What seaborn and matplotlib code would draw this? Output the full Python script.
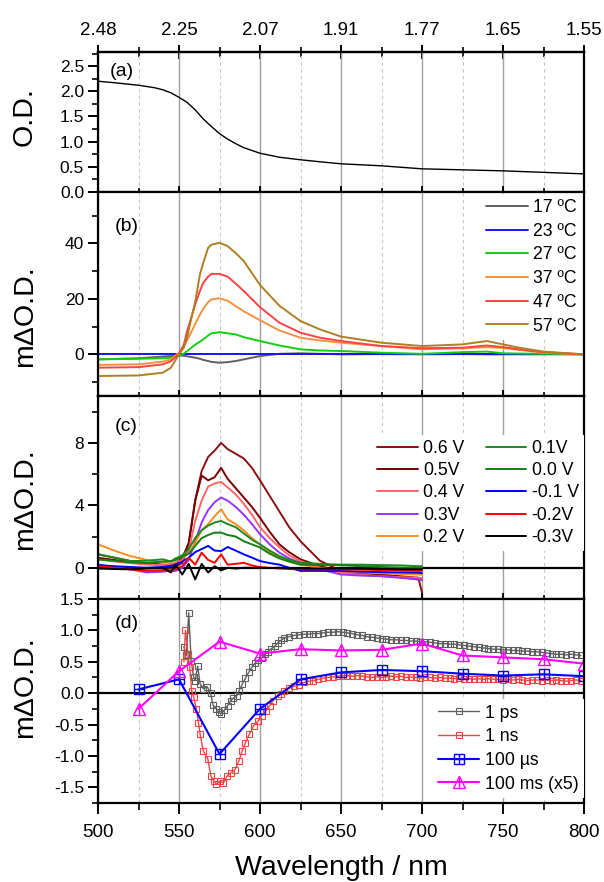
import numpy as np
import pandas as pd
import matplotlib
matplotlib.use("Agg")
import matplotlib.pyplot as plt
import seaborn as sns
from matplotlib.ticker import MultipleLocator, FixedLocator
from matplotlib.legend_handler import HandlerTuple

# ---------------- data ----------------
# (a) absorbance
abs_wl = [500, 510, 525, 535, 540, 545, 550, 555, 560, 565, 570, 575, 580, 585, 590, 600,
          612, 625, 637, 650, 675, 700, 725, 750, 775, 800]
abs_od = [2.20, 2.17, 2.12, 2.07, 2.03, 1.97, 1.88, 1.78, 1.63, 1.45, 1.30, 1.16, 1.05, 0.96,
          0.88, 0.77, 0.69, 0.64, 0.60, 0.56, 0.52, 0.46, 0.44, 0.42, 0.39, 0.36]

# (b) temperature difference spectra
temp_wl = [500, 525, 540, 545, 550, 553, 555, 558, 560, 563, 565, 568, 570, 575, 580, 585,
           590, 600, 612, 625, 637, 650, 675, 700, 725, 740, 750, 760, 775, 800]
temp_labels = ["17 ºC", "23 ºC", "27 ºC", "37 ºC", "47 ºC", "57 ºC"]
t17 = [-1.8, -1.4, -0.8, -0.6, -0.4, -0.5, -0.7, -1.0, -1.2, -1.6, -2.0, -2.4, -2.7, -3.0, -2.8,
       -2.4, -1.8, -0.6, 0.2, 0.4, 0.2, 0.0, 0.1, 0.0, 0.1, 0.0, 0.0, 0.0, 0.0, 0.0]
t23 = [0.0] * 30
t27 = [-1.8, -1.6, -1.4, -1.2, -0.5, 0.3, 1.2, 2.6, 3.5, 4.6, 5.4, 6.8, 7.6, 8.0, 7.6, 7.2,
       6.2, 4.8, 3.2, 1.8, 1.4, 1.2, 0.6, 0.2, 0.8, 1.0, 0.4, 0.3, 0.2, 0.0]
t37 = [-3.8, -3.6, -2.6, -1.8, 0.6, 3.0, 5.0, 8.5, 11.0, 14.4, 16.5, 18.8, 19.8, 20.2, 19.3,
       17.4, 15.5, 12.3, 8.6, 6.0, 5.0, 4.2, 3.0, 1.8, 2.2, 2.6, 2.3, 1.6, 0.6, 0.0]
t47 = [-4.8, -4.6, -3.6, -2.5, 0.2, 3.5, 8.4, 14.0, 18.0, 23.0, 25.8, 28.0, 29.0, 29.0, 28.0,
       25.5, 22.8, 17.0, 11.4, 7.8, 6.0, 4.8, 3.0, 2.2, 2.4, 3.2, 2.6, 1.8, 0.8, 0.0]
t57 = [-7.8, -7.6, -6.6, -4.8, 0.0, 2.4, 6.0, 14.0, 19.0, 29.0, 33.0, 38.4, 39.5, 40.2, 39.0,
       36.5, 33.6, 25.0, 17.5, 12.0, 9.0, 6.4, 4.2, 3.0, 3.6, 4.8, 3.6, 2.4, 1.0, 0.0]
temp_colors = ["#5f5f5f", "#1414ff", "#10d010", "#f5913f", "#ff4242", "#b07f22"]

# (c) potential difference spectra
pot_wl = [500, 510, 520, 530, 540, 545, 548, 552, 556, 560, 564, 568, 572, 576, 580, 585, 590,
          595, 600, 606, 612, 618, 625, 637, 650, 662, 675, 687, 698, 700]
pot_labels = ["0.6 V", "0.5V", "0.4 V", "0.3V", "0.2 V", "0.1V", "0.0 V", "-0.1 V", "-0.2V", "-0.3V"]
v06 = [0.86, 0.65, 0.43, 0.30, 0.20, 0.15, 0.10, 0.30, 1.5, 4.3, 6.2, 7.1, 7.5, 8.0, 7.6, 7.3,
       7.0, 6.4, 5.6, 4.6, 3.6, 2.6, 1.7, 0.45, -0.2, -0.4, -0.5, -0.6, -0.75, -1.6]
v05 = [0.64, 0.50, 0.35, 0.25, 0.17, 0.20, 0.30, 0.60, 1.6, 4.3, 5.9, 5.6, 5.8, 6.4, 5.7, 5.1,
       4.5, 3.9, 3.2, 2.3, 1.5, 1.0, 0.54, 0.10, -0.2, -0.35, -0.43, -0.55, -0.64, -0.7]
v04 = [0.54, 0.40, 0.30, 0.20, 0.17, 0.25, 0.35, 0.50, 1.1, 3.0, 4.3, 5.2, 5.4, 5.5, 5.15, 4.7,
       4.1, 3.4, 2.6, 1.9, 1.3, 0.8, 0.43, 0.0, -0.3, -0.45, -0.54, -0.6, -0.64, -0.7]
v03 = [0.20, 0.05, -0.10, -0.30, -0.25, -0.20, -0.20, 0.0, 0.5, 1.7, 2.9, 3.7, 4.2, 4.5, 4.3, 3.9,
       3.4, 2.8, 2.15, 1.5, 0.97, 0.6, 0.32, -0.1, -0.43, -0.5, -0.54, -0.65, -0.75, -0.8]
v02 = [1.5, 1.1, 0.75, 0.50, 0.32, 0.40, 0.60, 0.70, 0.9, 1.6, 2.4, 2.8, 3.3, 3.75, 3.1, 2.8,
       2.4, 1.9, 1.5, 1.0, 0.64, 0.4, 0.2, 0.0, -0.2, -0.3, -0.35, -0.4, -0.43, -0.45]
v01 = [0.86, 0.65, 0.43, 0.45, 0.54, 0.40, 0.60, 0.80, 1.2, 1.9, 2.4, 2.7, 2.9, 3.0, 2.8, 2.6,
       2.2, 1.8, 1.5, 1.1, 0.75, 0.5, 0.32, 0.25, 0.2, 0.2, 0.17, 0.15, 0.1, 0.1]
v00 = [0.54, 0.45, 0.35, 0.30, 0.40, 0.43, 0.50, 0.70, 0.9, 1.4, 1.9, 2.1, 2.25, 2.25, 2.1, 2.0,
       1.7, 1.5, 1.3, 0.9, 0.6, 0.4, 0.2, 0.18, 0.17, 0.1, 0.05, 0.0, 0.0, 0.0]
vm01 = [0.17, 0.10, 0.05, 0.0, 0.05, 0.10, 0.20, 0.40, 0.64, 1.0, 1.2, 1.4, 1.1, 1.07, 1.33, 1.1,
        0.86, 0.65, 0.43, 0.3, 0.2, 0.0, -0.2, -0.2, -0.2, -0.25, -0.28, -0.3, -0.32, -0.35]
vm02 = [0.10, 0.0, -0.10, -0.20, -0.15, -0.10, -0.10, 0.10, 0.64, 0.2, 0.97, 0.5, 0.32, 0.86, 0.2,
        0.25, 0.32, 0.15, 0.04, 0.0, -0.05, -0.08, -0.1, -0.1, -0.1, -0.12, -0.15, -0.18, -0.2, -0.2]
vm03 = [-0.05, -0.08, -0.10, -0.05, 0.0, -0.30, 0.20, -0.43, 0.25, -0.75, 0.25, -0.3, 0.1, -0.17,
        0.0, -0.05, 0.0, 0.0, 0.0, -0.02, 0.0, -0.03, -0.05, -0.05, -0.05, -0.06, -0.08, -0.1, -0.1, -0.1]
pot_colors = ["#8b1010", "#7a0000", "#ff6666", "#9933ff", "#ff8c1a",
              "#1f8a1f", "#138013", "#0000ff", "#ff0000", "#000000"]

# (d) transient spectra
ps_wl = [553, 554.5, 556, 557.5, 559, 560, 561.5, 563, 565, 567.5, 569.5, 571, 573, 574.5, 576,
         578, 580, 582, 583.5, 585.5, 587, 589, 591, 593, 595, 597, 599, 601, 603, 605, 607, 609,
         611, 613, 615, 618, 621, 624, 627, 630, 633, 636, 639, 642, 645, 648, 651, 654, 657, 660,
         663, 666, 669, 672, 675, 678, 681, 684, 687, 690, 693, 696, 699, 702, 705, 708, 711, 714,
         717, 720, 723, 726, 729, 732, 735, 738, 741, 744, 747, 750, 753, 756, 759, 762, 765, 768,
         771, 774, 777, 780, 783, 786, 789, 792, 795, 798]
ps_val = [0.74, 0.60, 1.28, 0.52, 0.26, 0.20, 0.43, 0.15, 0.07, 0.10, 0.0, -0.19, -0.25, -0.30, -0.33,
          -0.27, -0.20, -0.12, -0.08, -0.05, 0.03, 0.14, 0.24, 0.33, 0.41, 0.48, 0.53, 0.56, 0.62, 0.66,
          0.71, 0.75, 0.80, 0.84, 0.88, 0.90, 0.92, 0.93, 0.94, 0.94, 0.95, 0.95, 0.96, 0.97, 0.97, 0.98,
          0.97, 0.96, 0.95, 0.93, 0.92, 0.90, 0.89, 0.88, 0.87, 0.86, 0.85, 0.85, 0.84, 0.84, 0.83, 0.83,
          0.82, 0.82, 0.81, 0.80, 0.79, 0.79, 0.78, 0.78, 0.77, 0.76, 0.75, 0.74, 0.73, 0.72, 0.71, 0.70,
          0.70, 0.69, 0.69, 0.68, 0.68, 0.67, 0.67, 0.66, 0.66, 0.65, 0.64, 0.63, 0.62, 0.62, 0.61, 0.62,
          0.61, 0.60]
ns_wl = [553, 554, 555.5, 556.6, 557.8, 559, 560.7, 562, 563, 565, 567.8, 569.7, 571.4, 573, 575,
         577.4, 579.7, 582, 584.5, 587, 589, 591, 593.5, 596, 599, 601, 603.5, 606, 608, 611, 613,
         615, 618, 621, 624, 627, 630, 633, 636, 639, 642, 645, 648, 651, 654, 657, 660, 663, 666,
         669, 672, 675, 678, 681, 684, 687, 690, 693, 696, 699, 702, 705, 708, 711, 714, 717, 720,
         723, 726, 729, 732, 735, 738, 741, 744, 747, 750, 753, 756, 759, 762, 765, 768, 771, 774,
         777, 780, 783, 786, 789, 792, 795, 798]
ns_val = [0.50, 1.00, 0.63, 0.42, 0.04, -0.06, -0.25, -0.47, -0.65, -0.92, -1.05, -1.32, -1.40, -1.45,
          -1.40, -1.43, -1.32, -1.27, -1.22, -1.08, -0.92, -0.79, -0.65, -0.52, -0.44, -0.36, -0.28,
          -0.20, -0.12, -0.05, -0.01, 0.04, 0.08, 0.11, 0.13, 0.17, 0.19, 0.20, 0.22, 0.24, 0.25, 0.26,
          0.27, 0.28, 0.28, 0.27, 0.28, 0.27, 0.26, 0.25, 0.26, 0.25, 0.26, 0.27, 0.26, 0.27, 0.25, 0.26,
          0.25, 0.24, 0.25, 0.25, 0.24, 0.25, 0.24, 0.24, 0.23, 0.24, 0.23, 0.23, 0.22, 0.23, 0.22, 0.23,
          0.22, 0.22, 0.21, 0.22, 0.21, 0.22, 0.21, 0.20, 0.21, 0.21, 0.20, 0.21, 0.20, 0.21, 0.20, 0.19,
          0.20, 0.21, 0.20]
coarse_wl = [525, 550, 575, 600, 625, 650, 675, 700, 725, 750, 775, 800]
us_val = [0.06, 0.22, -0.97, -0.25, 0.22, 0.33, 0.37, 0.35, 0.31, 0.28, 0.30, 0.27]
ms_val = [-0.25, 0.35, 0.82, 0.63, 0.70, 0.68, 0.69, 0.79, 0.60, 0.57, 0.54, 0.47]
d_labels = ["1 ps", "1 ns", "100 µs", "100 ms (x5)"]

ev_ticks = [500, 550, 600, 650, 700, 750, 800]
ev_labels = ["2.48", "2.25", "2.07", "1.91", "1.77", "1.65", "1.55"]

# ---------------- style ----------------
sns.set_theme(style="ticks")
plt.rcParams["font.family"] = ["Liberation Sans", "DejaVu Sans"]
for k in ["text.color", "axes.labelcolor", "xtick.color", "ytick.color", "axes.edgecolor"]:
    plt.rcParams[k] = "black"

fig = plt.figure(figsize=(6.04, 8.82), dpi=100)
FW, FH = 604.0, 882.0
L, R = 98, 584


def add(top, bottom):
    return fig.add_axes([L / FW, (FH - bottom) / FH, (R - L) / FW, (bottom - top) / FH])


axa = add(52, 192)
axb = add(192, 396)
axc = add(396, 599)
axd = add(599, 803)
axes = [axa, axb, axc, axd]

for i, ax in enumerate(axes):
    ax.set_xlim(500, 800)
    ax.xaxis.set_major_locator(MultipleLocator(50))
    ax.xaxis.set_minor_locator(MultipleLocator(25))
    ax.grid(which="major", axis="x", color="#a0a0a0", lw=1.0, ls="-", zorder=0)
    ax.grid(which="minor", axis="x", color="#c8c8c8", lw=0.8, ls=(0, (3, 3)), zorder=0)
    ax.grid(which="both", axis="y", visible=False)
    for s in ax.spines.values():
        s.set_linewidth(1.6)
        s.set_color("black")
    last = (i == 3)
    ax.tick_params(axis="x", which="major", direction="out" if last else "inout",
                   length=8 if last else 9, width=1.4, labelsize=13.5, pad=7,
                   labelbottom=last, top=False)
    ax.tick_params(axis="x", which="minor", direction="out" if last else "inout",
                   length=5 if last else 6, width=1.2, top=False)
    ax.tick_params(axis="y", which="major", direction="out", length=7, width=1.4,
                   labelsize=12.5, pad=3, right=False)
    ax.tick_params(axis="y", which="minor", direction="out", length=4, width=1.2, right=False)
    ax.set_xlabel("")
    ax.set_ylabel("")

# (a)
sns.lineplot(x=abs_wl, y=abs_od, ax=axa, color="black", lw=1.0, estimator=None, sort=False)
axa.set_ylim(0, 2.78)
axa.yaxis.set_major_locator(MultipleLocator(0.5))
axa.yaxis.set_minor_locator(MultipleLocator(0.25))
axa.yaxis.set_major_formatter(matplotlib.ticker.FormatStrFormatter("%.1f"))
sec = axa.secondary_xaxis("top")
sec.set_xticks(ev_ticks, labels=ev_labels)
sec.xaxis.set_minor_locator(FixedLocator([525, 575, 625, 675, 725, 775]))
sec.tick_params(axis="x", which="major", direction="inout", length=10, width=1.4,
                labelsize=13.5, pad=4)
sec.tick_params(axis="x", which="minor", direction="inout", length=7, width=1.2)
sec.spines["top"].set_linewidth(1.6)

# (b)
for vals, lab, col in zip([t17, t23, t27, t37, t47, t57], temp_labels, temp_colors):
    sns.lineplot(x=temp_wl, y=vals, ax=axb, color=col, lw=1.4, label=lab,
                 estimator=None, sort=False)
axb.set_ylim(-15, 58.5)
axb.yaxis.set_major_locator(MultipleLocator(20))
axb.yaxis.set_minor_locator(MultipleLocator(10))
axb.legend(loc="upper right", bbox_to_anchor=(1.0, 1.0), fontsize=12.7, frameon=True,
           facecolor="white", edgecolor="none", framealpha=1, fancybox=False,
           handlelength=2.4, handletextpad=0.3, labelspacing=0.38, borderpad=0.3,
           borderaxespad=0.1)

# (c)
axc.axhline(0, color="black", lw=1.6, zorder=1.5)
for vals, lab, col in zip([v06, v05, v04, v03, v02, v01, v00, vm01, vm02, vm03], pot_labels, pot_colors):
    sns.lineplot(x=pot_wl, y=vals, ax=axc, color=col, lw=1.4, label=lab,
                 estimator=None, sort=False)
axc.set_ylim(-2, 11)
axc.yaxis.set_major_locator(MultipleLocator(4))
axc.yaxis.set_minor_locator(MultipleLocator(2))
axc.legend(loc="upper right", bbox_to_anchor=(1.0, 0.81), ncol=2, fontsize=12.7,
           frameon=True, facecolor="white", edgecolor="none", framealpha=1, fancybox=False,
           handlelength=2.3, handletextpad=0.3, labelspacing=0.3, borderpad=0.3,
           borderaxespad=0.0, columnspacing=1.2)

# (d)
axd.axhline(0, color="black", lw=1.6, zorder=1.5)
sns.lineplot(x=ps_wl, y=ps_val, ax=axd, color="#5f5f5f", lw=1.0, marker="s", markersize=4.4,
             markerfacecolor="none", markeredgecolor="#5f5f5f", markeredgewidth=0.8,
             estimator=None, sort=False)
h_ps = axd.lines[-1]
sns.lineplot(x=ns_wl, y=ns_val, ax=axd, color="#f04545", lw=1.0, marker="s", markersize=4.4,
             markerfacecolor="none", markeredgecolor="#f04545", markeredgewidth=0.8,
             estimator=None, sort=False)
h_ns = axd.lines[-1]
sns.lineplot(x=coarse_wl, y=us_val, ax=axd, color="#0000ff", lw=1.5, marker="s", markersize=7,
             markerfacecolor="none", markeredgecolor="#0000ff", markeredgewidth=1.0,
             estimator=None, sort=False)
h_us = axd.lines[-1]
sns.lineplot(x=coarse_wl, y=us_val, ax=axd, color="#0000ff", lw=0, marker="+", markersize=7,
             markeredgecolor="#0000ff", markeredgewidth=1.0, estimator=None, sort=False)
h_us2 = axd.lines[-1]
sns.lineplot(x=coarse_wl, y=ms_val, ax=axd, color="#ff00ff", lw=1.5, marker="^", markersize=8,
             markerfacecolor="none", markeredgecolor="#ff00ff", markeredgewidth=1.0,
             estimator=None, sort=False)
h_ms = axd.lines[-1]
sns.lineplot(x=coarse_wl, y=ms_val, ax=axd, color="#ff00ff", lw=0, marker="|", markersize=8,
             markeredgecolor="#ff00ff", markeredgewidth=1.0, estimator=None, sort=False)
h_ms2 = axd.lines[-1]
axd.set_ylim(-1.75, 1.5)
axd.yaxis.set_major_locator(MultipleLocator(0.5))
axd.yaxis.set_minor_locator(MultipleLocator(0.25))
axd.yaxis.set_major_formatter(matplotlib.ticker.FormatStrFormatter("%.1f"))
axd.legend([h_ps, h_ns, (h_us, h_us2), (h_ms, h_ms2)], d_labels,
           handler_map={tuple: HandlerTuple(ndivide=1)},
           loc="lower right", bbox_to_anchor=(1.0, 0.025), fontsize=12.7, frameon=True,
           facecolor="white", edgecolor="none", framealpha=1, fancybox=False,
           handlelength=2.3, handletextpad=0.35, labelspacing=0.38, borderpad=0.3,
           borderaxespad=0.0)

# panel letters
for ax, t, x, y in [(axa, "(a)", 0.025, 0.86), (axb, "(b)", 0.035, 0.83),
                    (axc, "(c)", 0.035, 0.85), (axd, "(d)", 0.035, 0.88)]:
    ax.text(x, y, t, transform=ax.transAxes, fontsize=14, ha="left", va="center")

# axis titles
for lab, yc in [("O.D.", 117), ("mΔO.D.", 316), ("mΔO.D.", 499), ("mΔO.D.", 687)]:
    fig.text(25 / FW, 1 - yc / FH, lab, rotation=90, ha="center", va="center", fontsize=20.5)
fig.text((L + R) / 2 / FW, 1 - 868 / FH, "Wavelength / nm", ha="center", va="center", fontsize=20.5)

fig.savefig("out.png", dpi=100)
